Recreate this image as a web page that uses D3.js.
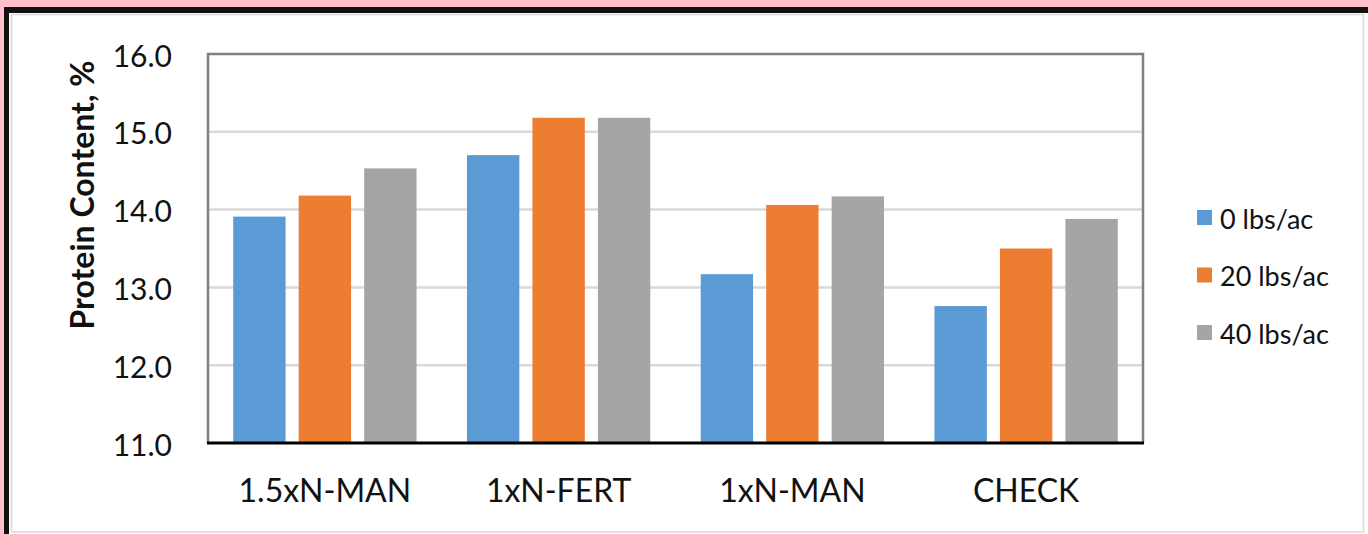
<!DOCTYPE html>
<html>
<head>
<meta charset="utf-8">
<script src="https://cdn.jsdelivr.net/npm/d3@7"></script>
<style>
  html, body { margin: 0; padding: 0; background: #ffc0cb; }
  svg { display: block; }
</style>
</head>
<body>
<svg id="chart" width="1368" height="534"></svg>
<script>
const categories = ["1.5xN-MAN", "1xN-FERT", "1xN-MAN", "CHECK"];
const seriesNames = ["0 lbs/ac", "20 lbs/ac", "40 lbs/ac"];
const values0 = [13.91, 14.70, 13.17, 12.76];
const values20 = [14.18, 15.18, 14.06, 13.50];
const values40 = [14.53, 15.18, 14.17, 13.88];
const yTickValues = [11, 12, 13, 14, 15, 16];
const colors = ["#5b9bd5", "#ed7d31", "#a5a5a5"];
const yTitle = "Protein Content, %";

const seriesValues = [values0, values20, values40];
const table = categories.map((c, i) => ({
  category: c,
  items: seriesNames.map((s, j) => ({ key: s, value: seriesValues[j][i], color: colors[j] }))
}));

const svg = d3.select("#chart");
const W = 1368, H = 534;

// outer frame
svg.append("rect").attr("x", 0).attr("y", 0).attr("width", W).attr("height", H).attr("fill", "#ffc0cb");
svg.append("rect").attr("x", 4).attr("y", 7).attr("width", W - 4).attr("height", H - 7).attr("fill", "#111");
svg.append("rect").attr("x", 9).attr("y", 13).attr("width", W - 9).attr("height", H - 13).attr("fill", "#fff");
svg.append("rect").attr("x", 11.5).attr("y", 14.5).attr("width", 1352).attr("height", 517.5)
  .attr("fill", "none").attr("stroke", "#d9d9d9").attr("stroke-width", 1.5);

const plot = { left: 208, top: 54, right: 1143, bottom: 443 };

const y = d3.scaleLinear().domain([11, 16]).range([plot.bottom, plot.top]);
const x0 = d3.scaleBand().domain(categories).range([plot.left, plot.right]).paddingInner(0).paddingOuter(0);
const x1 = d3.scaleBand().domain(seriesNames).range([0, x0.bandwidth()]).paddingInner(0.2).paddingOuter(0.385);

const font = "Lato, 'Open Sans', sans-serif";

// gridlines
svg.append("g").selectAll("line").data(yTickValues.filter(v => v > 11 && v < 16)).join("line")
  .attr("x1", plot.left).attr("x2", plot.right)
  .attr("y1", d => y(d)).attr("y2", d => y(d))
  .attr("stroke", "#d9d9d9").attr("stroke-width", 2.5);

// bars
const groups = svg.append("g").selectAll("g").data(table).join("g")
  .attr("transform", d => `translate(${x0(d.category)},0)`);
groups.selectAll("rect").data(d => d.items).join("rect")
  .attr("x", d => x1(d.key))
  .attr("width", x1.bandwidth())
  .attr("y", d => y(d.value))
  .attr("height", d => y(11) - y(d.value))
  .attr("fill", d => d.color);

// plot frame
svg.append("path")
  .attr("d", `M${plot.left},${plot.bottom} V${plot.top} H${plot.right} V${plot.bottom}`)
  .attr("fill", "none").attr("stroke", "#808080").attr("stroke-width", 2.5);
svg.append("line")
  .attr("x1", plot.left - 1).attr("x2", plot.right + 1)
  .attr("y1", plot.bottom).attr("y2", plot.bottom)
  .attr("stroke", "#000").attr("stroke-width", 3);

// y axis labels
const yAxis = svg.append("g").attr("transform", `translate(${plot.left},0)`)
  .call(d3.axisLeft(y).tickValues(yTickValues).tickFormat(d3.format(".1f")).tickSize(0).tickPadding(36));
yAxis.select(".domain").remove();
yAxis.selectAll("text")
  .attr("font-family", font).attr("font-size", 30).attr("fill", "#111")
  .attr("dy", null).attr("dominant-baseline", "central");

// x axis labels
const xAxis = svg.append("g").attr("transform", `translate(0,${plot.bottom})`)
  .call(d3.axisBottom(x0).tickSize(0).tickPadding(0));
xAxis.select(".domain").remove();
xAxis.selectAll("text")
  .attr("font-family", font).attr("font-size", 32).attr("fill", "#111")
  .attr("y", 46).attr("dy", null).attr("dominant-baseline", "central");

// y title
svg.append("text")
  .attr("transform", "translate(81,195) rotate(-90)")
  .attr("text-anchor", "middle").attr("dominant-baseline", "central")
  .attr("font-family", font).attr("font-weight", "bold").attr("font-size", 32).attr("fill", "#111")
  .text(yTitle);

// legend
const legendY = d3.scalePoint().domain(seriesNames).range([218, 333]);
const legend = svg.append("g").selectAll("g").data(seriesNames).join("g")
  .attr("transform", d => `translate(1197,${legendY(d)})`);
legend.append("rect").attr("x", 0).attr("y", -8).attr("width", 15).attr("height", 15)
  .attr("fill", (d, i) => colors[i]);
legend.append("text").attr("x", 23).attr("y", 0).attr("dominant-baseline", "central")
  .attr("font-family", font).attr("font-size", 27).attr("fill", "#111")
  .text(d => d);
</script>
</body>
</html>
